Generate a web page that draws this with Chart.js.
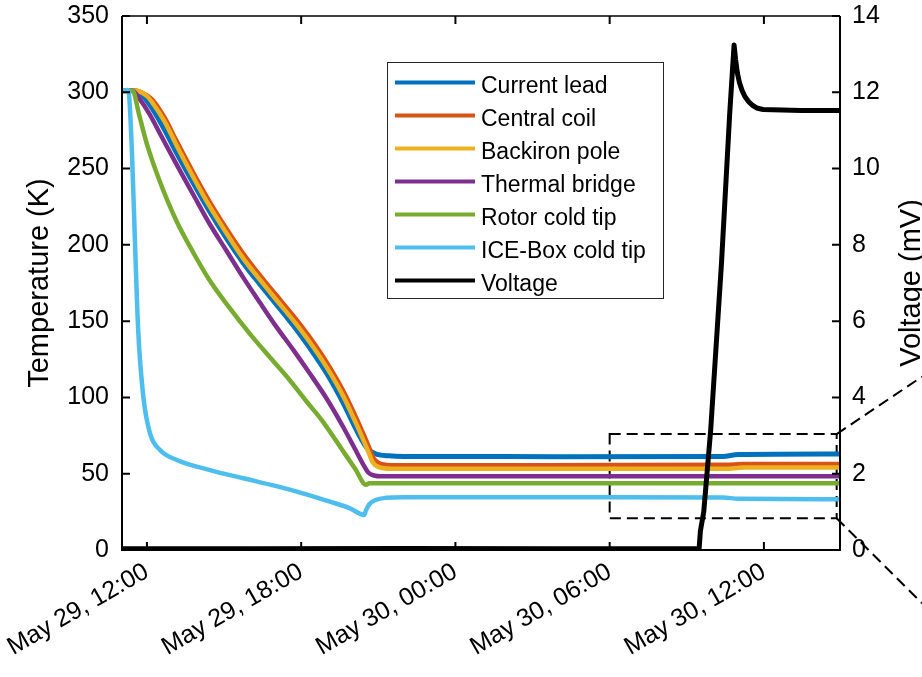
<!DOCTYPE html>
<html>
<head>
<meta charset="utf-8">
<script src="https://cdn.jsdelivr.net/npm/chart.js@4.4.1/dist/chart.umd.min.js"></script>
<style>
  html, body { margin: 0; padding: 0; background: #fff; overflow: hidden; }
</style>
</head>
<body>
<canvas id="chart" width="922" height="677"></canvas>
<script>
// time is in hours counted from May 29, 00:00
const xTickHours = [12, 18, 24, 30, 36];
const xTickLabels = ['May 29, 12:00', 'May 29, 18:00', 'May 30, 00:00', 'May 30, 06:00', 'May 30, 12:00'];
const tempTicks = [0, 50, 100, 150, 200, 250, 300, 350];
const voltTicks = [0, 2, 4, 6, 8, 10, 12, 14];

const seriesNames = ['Current lead', 'Central coil', 'Backiron pole', 'Thermal bridge', 'Rotor cold tip', 'ICE-Box cold tip', 'Voltage'];
const seriesColors = ['#0072BD', '#D95319', '#EDB120', '#7E2F8E', '#77AC30', '#4DBEEE', '#000000'];

// [hour, K]
const currentLead = [[11.03,301],[11.5,301],[11.8,298.5],[12.22,289],[12.7,275],[13.13,261],[13.8,240.5],[14.43,222],[15.1,204],[15.73,188.5],[16.4,174],[17.03,161],[17.7,147],[18.33,132.5],[19.0,115.5],[19.63,96.5],[20.2,77],[20.55,67],[20.74,64.3],[20.95,62.7],[21.4,61.7],[22,61.3],[28,61.2],[34.4,61.3],[35.0,62.6],[38.96,63]];
const centralCoil = [[11.03,301],[11.57,301],[12.0,298],[12.22,295],[12.7,283],[13.13,268.8],[13.8,247.4],[14.43,228.5],[15.1,210.4],[15.73,194.7],[16.4,180],[17.03,167.1],[17.7,153.4],[18.33,139.5],[19.0,122.8],[19.63,104.5],[20.2,84.5],[20.67,66.2],[20.8,60.5],[21.0,57.2],[21.5,55.6],[25,55.5],[30,55.7],[34.5,55.8],[35.2,56.3],[38.96,56.3]];
const backironPole = [[11.03,301],[11.55,301],[12.0,297.5],[12.22,293],[12.7,280.5],[13.13,266],[13.8,244.5],[14.43,225.5],[15.1,207.5],[15.73,191.5],[16.4,177],[17.03,164],[17.7,150.3],[18.33,136.3],[19.0,119.5],[19.63,101],[20.2,80.5],[20.62,64],[20.8,57],[21.0,54.5],[21.5,53.3],[30,53.3],[34.5,53.3],[35.2,54],[38.96,54]];
const thermalBridge = [[11.03,301],[11.44,301],[11.7,296],[12.09,286],[12.6,270],[13.13,253.4],[13.8,233],[14.43,214],[15.1,196],[15.73,179],[16.4,162],[17.03,146.4],[17.7,131],[18.33,115.8],[19.0,99],[19.63,80.8],[20.1,66],[20.45,55],[20.6,51],[20.8,49],[21.2,48.3],[38.96,48.3]];
const rotorColdTip = [[11.03,301],[11.44,301],[11.7,285],[12.0,266],[12.48,242.5],[13.13,216.3],[13.8,195],[14.43,177],[15.2,159],[15.99,142],[16.8,126],[17.55,111.4],[18.2,97.5],[18.85,84],[19.6,65.5],[20.1,53.2],[20.52,42.8],[20.65,43.7],[38.96,43.7]];
const iceBoxColdTip = [[11.03,301],[11.27,301.5],[11.41,264],[11.54,199],[11.66,144],[11.86,100.5],[12.12,76.5],[12.51,65.5],[13.16,59],[14.45,52.4],[15.75,47],[17.0,42],[18.2,36.5],[19.12,31.7],[19.9,27.3],[20.45,23],[20.52,26],[20.65,30],[20.9,32.8],[21.3,34.2],[22,34.6],[30,34.6],[34.4,34.4],[35.0,33.6],[38.96,33.3]];
// [hour, mV]
const voltage = [[11.03,0.03],[16,0.03],[22,0.04],[28,0.03],[33.48,0.04],[33.53,0.5],[33.66,1.0],[33.93,3.15],[34.35,7.52],[34.67,11.45],[34.84,13.24],[34.9,12.85],[34.97,12.5],[35.05,12.25],[35.15,12.05],[35.26,11.89],[35.4,11.76],[35.55,11.66],[35.75,11.58],[35.97,11.55],[37.44,11.52],[38.96,11.52]];

// dashed zoom box (hours, K) and the two lines leading off to the right
const zoomBoxHours = [30.0, 38.83];
const zoomBoxTemp = [20.8, 76.0];
const zoomLineEnds = [[42.15, 113.6], [42.15, -34.9]];

const tempSeries = [currentLead, centralCoil, backironPole, thermalBridge, rotorColdTip, iceBoxColdTip];

const FONT = '"Liberation Sans", Arial, Helvetica, sans-serif';

function toXY(arr) {
  return arr.map(p => ({x: p[0], y: p[1]}));
}

let datasets = tempSeries.map((s, i) => ({
  label: seriesNames[i],
  data: toXY(s),
  yAxisID: 'yT',
  borderColor: seriesColors[i],
  borderWidth: i == 0 ? 5 : 4.5,
  pointRadius: 0,
  fill: false,
  cubicInterpolationMode: 'monotone',
  order: 6 - i
}));
datasets.push({
  label: seriesNames[6],
  data: toXY(voltage),
  yAxisID: 'yV',
  borderColor: seriesColors[6],
  borderWidth: 5,
  pointRadius: 0,
  fill: false,
  tension: 0,
  borderJoinStyle: 'round',
  order: 0
});

const framePlugin = {
  id: 'frame',
  beforeDatasetsDraw(chart) {
    const ctx = chart.ctx, x = chart.scales.x, y = chart.scales.yT;
    const x0 = x.getPixelForValue(zoomBoxHours[0]), x1 = x.getPixelForValue(zoomBoxHours[1]);
    const y0 = y.getPixelForValue(zoomBoxTemp[1]), y1 = y.getPixelForValue(zoomBoxTemp[0]);
    ctx.save();
    ctx.strokeStyle = '#000';
    ctx.lineWidth = 2;
    ctx.setLineDash([11, 6]);
    ctx.strokeRect(x0, y0, x1 - x0, y1 - y0);
    ctx.restore();
  },
  afterDraw(chart) {
    const ctx = chart.ctx, a = chart.chartArea;
    const x = chart.scales.x, yT = chart.scales.yT, yV = chart.scales.yV;
    ctx.save();

    // zoom lines
    ctx.strokeStyle = '#000';
    ctx.lineWidth = 2;
    ctx.setLineDash([11, 6]);
    const bx = x.getPixelForValue(zoomBoxHours[1]);
    const corners = [yT.getPixelForValue(zoomBoxTemp[1]), yT.getPixelForValue(zoomBoxTemp[0])];
    zoomLineEnds.forEach((e, i) => {
      ctx.beginPath();
      ctx.moveTo(bx, corners[i]);
      ctx.lineTo(x.getPixelForValue(e[0]), yT.getPixelForValue(e[1]));
      ctx.stroke();
    });
    ctx.setLineDash([]);

    // box and inward ticks
    ctx.lineWidth = 2;
    ctx.beginPath();
    ctx.moveTo(a.left, a.top); ctx.lineTo(a.left, a.bottom);
    ctx.lineTo(a.right, a.bottom); ctx.lineTo(a.right, a.top);
    ctx.stroke();
    ctx.lineWidth = 1.5;
    ctx.beginPath();
    ctx.moveTo(a.left, a.top); ctx.lineTo(a.right, a.top);
    ctx.stroke();
    ctx.lineWidth = 2;
    ctx.beginPath();
    tempTicks.forEach(t => {
      const p = yT.getPixelForValue(t);
      ctx.moveTo(a.left, p); ctx.lineTo(a.left + 8, p);
    });
    voltTicks.forEach(t => {
      const p = yV.getPixelForValue(t);
      ctx.moveTo(a.right, p); ctx.lineTo(a.right - 8, p);
    });
    xTickHours.forEach(t => {
      const p = x.getPixelForValue(t);
      ctx.moveTo(p, a.bottom); ctx.lineTo(p, a.bottom - 8);
      ctx.moveTo(p, a.top); ctx.lineTo(p, a.top + 8);
    });
    ctx.stroke();

    // axis titles, both read bottom to top
    ctx.fillStyle = '#000';
    ctx.font = '29px ' + FONT;
    ctx.textAlign = 'center';
    ctx.textBaseline = 'alphabetic';
    const midY = (a.top + a.bottom) / 2;
    [[48, 'Temperature (K)'], [920, 'Voltage (mV)']].forEach(t => {
      ctx.save();
      ctx.translate(t[0], midY);
      ctx.rotate(-Math.PI / 2);
      ctx.fillText(t[1], 0, 0);
      ctx.restore();
    });

    // legend
    ctx.fillStyle = '#fff';
    ctx.fillRect(387, 62, 277, 237);
    ctx.strokeStyle = '#262626';
    ctx.lineWidth = 1;
    ctx.strokeRect(387.5, 62.5, 276, 236);
    ctx.font = '23px ' + FONT;
    ctx.textAlign = 'left';
    seriesNames.forEach((n, i) => {
      const ly = 82.5 + i * 33;
      ctx.strokeStyle = seriesColors[i];
      ctx.lineWidth = 4;
      ctx.beginPath();
      ctx.moveTo(395, ly); ctx.lineTo(475, ly);
      ctx.stroke();
      ctx.fillStyle = '#000';
      ctx.fillText(n, 481, ly + 10.5);
    });
    ctx.restore();
  }
};

new Chart(document.getElementById('chart'), {
  type: 'line',
  data: { datasets: datasets },
  options: {
    responsive: false,
    animation: false,
    devicePixelRatio: 1,
    layout: { padding: { top: 16, left: 0, right: 0, bottom: 0 } },
    plugins: { legend: { display: false }, tooltip: { enabled: false } },
    scales: {
      x: {
        type: 'linear',
        position: 'bottom',
        min: 11.03,
        max: 38.96,
        grid: { display: false, drawTicks: false },
        border: { display: false },
        ticks: {
          color: '#000',
          font: { family: FONT, size: 25 },
          minRotation: 30,
          maxRotation: 30,
          autoSkip: false,
          padding: 7,
          callback: v => xTickLabels[xTickHours.indexOf(v)]
        },
        afterBuildTicks: s => { s.ticks = xTickHours.map(v => ({value: v})); },
        afterFit: s => { s.height = 127; s.paddingLeft = 0; s.paddingRight = 0; }
      },
      yT: {
        type: 'linear',
        position: 'left',
        min: 0,
        max: 350,
        grid: { display: false, drawTicks: false },
        border: { display: false },
        ticks: { color: '#000', font: { family: FONT, size: 25 }, stepSize: 50, padding: 13 },
        afterFit: s => { s.width = 122; s.paddingTop = 0; s.paddingBottom = 0; }
      },
      yV: {
        type: 'linear',
        position: 'right',
        min: 0,
        max: 14,
        grid: { display: false, drawTicks: false },
        border: { display: false },
        ticks: { color: '#000', font: { family: FONT, size: 25 }, stepSize: 2, padding: 12 },
        afterFit: s => { s.width = 82; s.paddingTop = 0; s.paddingBottom = 0; }
      }
    }
  },
  plugins: [framePlugin]
});
</script>
</body>
</html>
